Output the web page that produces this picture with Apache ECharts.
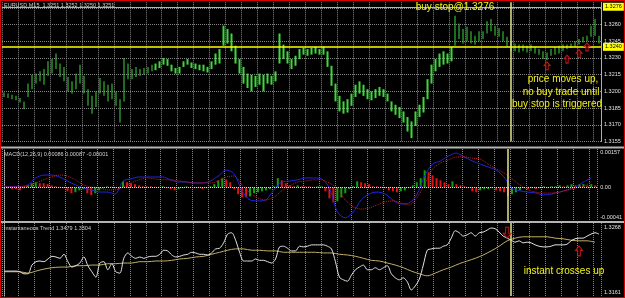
<!DOCTYPE html>
<html><head><meta charset="utf-8">
<script src="https://cdn.jsdelivr.net/npm/echarts@6/dist/echarts.min.js"></script>
<style>
html,body{margin:0;padding:0;background:#000;}
#c{width:625px;height:298px;position:absolute;left:0;top:0;}
#frame{position:absolute;left:0;top:0;width:625px;height:298px;box-sizing:border-box;border:1px solid #d80000;pointer-events:none;}
</style>
</head><body><div id="c"></div><div id="frame"></div>
<script>
// ---- price bars (EURUSD M15) ----
const highs = [
1.3199,1.3198,1.3197,1.3196,1.3194,1.3191,1.3207,1.3215,1.3216,1.3218,
1.3220,1.3227,1.3229,1.3234,1.3225,1.3222,1.3213,1.3209,1.3216,1.3224,
1.3214,1.3202,1.3196,1.3200,1.3212,1.3209,1.3206,1.3207,1.3200,1.3193,
1.3230,1.3225,1.3220,1.3222,1.3220,1.3221,1.3222,1.3224,1.3225,1.3227,
1.3230,1.3229,1.3224,1.3221,1.3222,1.3227,1.3229,1.3226,1.3225,1.3224,
1.3224,1.3222,1.3227,1.3234,1.3238,1.3259,1.3256,1.3252,1.3241,1.3229,
1.3222,1.3216,1.3215,1.3214,1.3216,1.3215,1.3216,1.3214,1.3218,1.3252,
1.3242,1.3236,1.3229,1.3232,1.3238,1.3239,1.3238,1.3239,1.3240,1.3238,
1.3240,1.3236,1.3223,1.3207,1.3196,1.3191,1.3193,1.3198,1.3206,1.3209,
1.3206,1.3202,1.3200,1.3202,1.3204,1.3202,1.3198,1.3191,1.3188,1.3186,
1.3182,1.3177,1.3173,1.3182,1.3188,1.3195,1.3211,1.3224,1.3229,1.3234,
1.3236,1.3234,1.3240,1.3268,1.3261,1.3256,1.3258,1.3254,1.3250,1.3254,
1.3254,1.3263,1.3265,1.3259,1.3257,1.3254,1.3249,1.3245,1.3243,1.3242,
1.3242,1.3241,1.3242,1.3240,1.3238,1.3236,1.3235,1.3238,1.3240,1.3241,
1.3242,1.3242,1.3243,1.3245,1.3247,1.3249,1.3250,1.3259,1.3265,1.3250];
const lows = [
1.3195,1.3194,1.3193,1.3192,1.3190,1.3184,1.3195,1.3202,1.3207,1.3209,
1.3206,1.3214,1.3216,1.3220,1.3213,1.3209,1.3200,1.3198,1.3202,1.3207,
1.3198,1.3187,1.3180,1.3186,1.3198,1.3196,1.3191,1.3193,1.3187,1.3172,
1.3191,1.3211,1.3211,1.3213,1.3214,1.3215,1.3216,1.3218,1.3219,1.3221,
1.3224,1.3223,1.3218,1.3216,1.3216,1.3222,1.3224,1.3221,1.3220,1.3219,
1.3218,1.3217,1.3220,1.3224,1.3225,1.3241,1.3243,1.3236,1.3225,1.3216,
1.3207,1.3203,1.3200,1.3204,1.3206,1.3200,1.3207,1.3206,1.3209,1.3225,
1.3229,1.3225,1.3220,1.3223,1.3229,1.3233,1.3232,1.3233,1.3234,1.3233,
1.3233,1.3222,1.3205,1.3191,1.3182,1.3180,1.3181,1.3187,1.3195,1.3198,
1.3196,1.3193,1.3192,1.3194,1.3196,1.3195,1.3191,1.3182,1.3179,1.3176,
1.3172,1.3164,1.3158,1.3169,1.3177,1.3181,1.3193,1.3207,1.3218,1.3222,
1.3224,1.3225,1.3227,1.3241,1.3247,1.3243,1.3245,1.3243,1.3242,1.3245,
1.3247,1.3252,1.3254,1.3250,1.3249,1.3245,1.3240,1.3236,1.3236,1.3235,
1.3236,1.3235,1.3236,1.3234,1.3233,1.3229,1.3228,1.3232,1.3233,1.3234,
1.3236,1.3238,1.3239,1.3240,1.3242,1.3244,1.3245,1.3249,1.3250,1.3243];
const buyStop = 1.3276;
const levelLine = 1.3240;
const signalBar = 127;
const priceArrows = [[136,1.3223],[141,1.3229],[144,1.3234],[146,1.3240]];

// ---- MACD(12,26,9) ----
const macdHist = [
-0.00004,-0.00004,-0.00008,-0.00008,-0.00013,-0.00004,0.00008,0.00017,0.00021,0.00017,
0.00017,0.00013,0.00008,0.00004,0.00002,-0.00004,-0.00017,-0.00025,-0.00021,-0.00013,
-0.00008,-0.00025,-0.00033,-0.00025,-0.00013,-0.00004,0.00004,0.00002,-0.00004,-0.00008,
0.00025,0.00021,0.00017,0.00013,0.00008,0.00004,0.00004,0.00004,0.00002,0.00002,
0.00004,-0.00004,-0.00008,-0.00013,-0.00008,-0.00004,0.00004,0.00002,-0.00004,-0.00004,
-0.00008,-0.00004,0.00004,0.00013,0.00029,0.00038,0.00033,0.00021,-0.00008,-0.00029,
-0.00042,-0.00042,-0.00038,-0.00025,-0.00021,-0.00017,-0.00013,-0.00008,0.00004,0.00038,
0.00029,0.00017,0.00008,0.00004,0.00008,0.00004,0.00004,0.00004,0.00002,0.00004,
0.00004,-0.00017,-0.00046,-0.00063,-0.00059,-0.00042,-0.00025,-0.00008,0.00004,0.00025,
0.00021,0.00017,0.00013,0.00004,0.00004,0.00002,-0.00004,-0.00013,-0.00017,-0.00021,
-0.00017,-0.00013,-0.00004,0.00008,0.00021,0.00038,0.00071,0.00063,0.00050,0.00038,
0.00029,0.00021,0.00013,0.00025,0.00013,0.00008,0.00004,-0.00004,-0.00017,-0.00021,
-0.00013,-0.00008,-0.00008,-0.00004,-0.00013,-0.00017,-0.00021,-0.00038,-0.00029,-0.00021,
-0.00013,-0.00004,-0.00008,-0.00004,-0.00008,-0.00004,0.00004,-0.00004,0.00004,0.00004,
0.00008,0.00004,0.00008,0.00013,0.00008,0.00013,0.00013,0.00008,0.00013,0.00008];
const lineStep = 2; // the two MACD lines and the trend line are read every 2nd bar
const macdMain = [
0.00003,0.00003,0.00003,0.00010,0.00039,0.00051,0.00051,0.00043,0.00026,0.00010,
-0.00003,-0.00011,-0.00020,-0.00020,-0.00028,0.00026,0.00035,0.00043,0.00043,0.00043,
0.00043,0.00031,0.00022,0.00022,0.00018,0.00018,0.00026,0.00047,0.00072,0.00056,
-0.00015,-0.00053,-0.00057,-0.00053,-0.00011,0.00022,0.00026,0.00031,0.00039,0.00039,
0.00035,-0.00003,-0.00103,-0.00128,-0.00103,-0.00053,-0.00028,-0.00020,-0.00028,-0.00053,
-0.00070,-0.00066,-0.00032,0.00047,0.00097,0.00110,0.00131,0.00143,0.00127,0.00110,
0.00097,0.00085,0.00072,0.00043,-0.00003,-0.00015,-0.00020,-0.00024,-0.00032,-0.00028,
-0.00020,-0.00011,0.00001,0.00022,0.00039];
const macdSignal = [
0.00001,0.00001,0.00001,0.00005,0.00018,0.00031,0.00043,0.00051,0.00047,0.00031,
0.00010,0.00001,-0.00003,-0.00011,-0.00011,0.00001,0.00018,0.00031,0.00039,0.00035,
0.00031,0.00031,0.00026,0.00022,0.00018,0.00018,0.00018,0.00026,0.00043,0.00047,
0.00010,-0.00024,-0.00045,-0.00053,-0.00041,-0.00015,0.00005,0.00022,0.00026,0.00031,
0.00031,0.00018,-0.00007,-0.00053,-0.00082,-0.00091,-0.00087,-0.00074,-0.00061,-0.00057,
-0.00066,-0.00074,-0.00045,0.00014,0.00076,0.00102,0.00114,0.00127,0.00127,0.00122,
0.00118,0.00097,0.00076,0.00060,0.00035,0.00010,-0.00011,-0.00020,-0.00024,-0.00024,
-0.00020,-0.00011,-0.00003,0.00005,0.00022];
const macdTickLabels = ['0.00157','0.00','-0.00041'];
const macdTickAt = [0.00147, 0, -0.00128];

// ---- Instantaneous Trend ----
const instant = [
1.3198,1.3198,1.3198,1.3198,1.3197,1.3194,1.3194,1.3207,1.3212,1.3213,
1.3212,1.3216,1.3220,1.3219,1.3217,1.3223,1.3212,1.3204,1.3206,1.3210,
1.3219,1.3206,1.3197,1.3189,1.3210,1.3212,1.3200,1.3209,1.3197,1.3195,
1.3217,1.3225,1.3220,1.3217,1.3219,1.3217,1.3219,1.3220,1.3220,1.3223,
1.3229,1.3228,1.3222,1.3219,1.3220,1.3222,1.3223,1.3226,1.3225,1.3223,
1.3223,1.3222,1.3225,1.3231,1.3232,1.3240,1.3253,1.3255,1.3244,1.3226,
1.3213,1.3213,1.3213,1.3216,1.3214,1.3214,1.3212,1.3210,1.3216,1.3234,
1.3235,1.3232,1.3228,1.3228,1.3235,1.3234,1.3235,1.3237,1.3237,1.3237,
1.3237,1.3235,1.3231,1.3212,1.3189,1.3185,1.3183,1.3192,1.3200,1.3204,
1.3207,1.3200,1.3200,1.3203,1.3200,1.3203,1.3206,1.3194,1.3188,1.3185,
1.3188,1.3182,1.3170,1.3176,1.3186,1.3207,1.3229,1.3231,1.3232,1.3232,
1.3235,1.3237,1.3247,1.3258,1.3255,1.3250,1.3252,1.3255,1.3250,1.3255,
1.3256,1.3259,1.3262,1.3261,1.3256,1.3250,1.3247,1.3244,1.3241,1.3243,
1.3240,1.3241,1.3240,1.3237,1.3235,1.3234,1.3234,1.3235,1.3237,1.3237,
1.3237,1.3238,1.3243,1.3246,1.3247,1.3247,1.3250,1.3253,1.3255,1.3253];
const trend = [
1.3197,1.3197,1.3197,1.3195,1.3198,1.3201,1.3203,1.3204,1.3204,1.3206,
1.3206,1.3207,1.3207,1.3209,1.3209,1.3210,1.3210,1.3212,1.3212,1.3213,
1.3213,1.3214,1.3216,1.3217,1.3219,1.3220,1.3223,1.3226,1.3229,1.3231,
1.3231,1.3229,1.3229,1.3228,1.3228,1.3226,1.3226,1.3226,1.3226,1.3226,
1.3225,1.3225,1.3223,1.3222,1.3220,1.3217,1.3214,1.3213,1.3210,1.3207,
1.3203,1.3198,1.3194,1.3191,1.3195,1.3200,1.3204,1.3209,1.3213,1.3217,
1.3222,1.3228,1.3235,1.3243,1.3247,1.3249,1.3249,1.3249,1.3249,1.3247,
1.3246,1.3244,1.3243,1.3243,1.3241];
const trendTickLabels = ['1.3268','1.3161'];
const trendTickAt = [1.32635, 1.31669];
const trendArrowsDown = [[126,1.3255]];
const trendArrowsUp = [[144,1.3228]];

// ---- text ----
const titleMain = 'EURUSD,M15  1.3251 1.3252 1.3250 1.3251';
const titleMacd = 'MACD(12,26,9) 0.00086 0.00087 -0.00001';
const titleTrend = 'Instantaneous Trend 1.3479 1.3304';
const noteBuyStop = 'buy stop@1.3276';
const notePrice = ['price moves up,','no buy trade until','buy stop is triggered'];
const noteCross = 'instant crosses up';

const N = highs.length;
const cats = highs.map((_, i) => i);
const FONT = 'Liberation Sans, Arial, sans-serif';
const GRIDCOL = '#858585';
const YEL = '#f2f21a';
const upArrow = 'path://M5,0 L10,5 L7,5 L7,11 L3,11 L3,5 L0,5 Z';
const downArrow = 'path://M3,0 L7,0 L7,6 L10,6 L5,11 L0,6 L3,6 Z';

function nearestLabel(pos, labels) {
  return function (v) {
    let best = 0;
    for (let i = 1; i < pos.length; i++) if (Math.abs(pos[i] - v) < Math.abs(pos[best] - v)) best = i;
    return labels[best];
  };
}
const vSplit = {show: true, interval: 3, lineStyle: {color: GRIDCOL, type: 'dotted', width: 1}};
function catAxis(g) {
  return {type: 'category', gridIndex: g, data: cats, boundaryGap: true,
    axisLine: {show: false}, axisTick: {show: false}, axisLabel: {show: false}, splitLine: vSplit};
}
function valX(g) {
  return {type: 'value', gridIndex: g, min: -0.5, max: N - 0.5, show: false, splitLine: {show: false}};
}
const axisLineR = {show: true, lineStyle: {color: '#bbbbbb', type: 'dotted', width: 1}};
const labelStyle = {fontSize: 5.5, color: '#e0e0e0', fontFamily: FONT, margin: 3};

const histColors = [];
let prevCol = '#12a012';
for (let i = 0; i < N; i++) {
  if (i > 0) {
    if (macdHist[i] > macdHist[i - 1]) prevCol = '#12a012';
    else if (macdHist[i] < macdHist[i - 1]) prevCol = '#e01414';
  }
  histColors.push(prevCol);
}

const vLine = {xAxis: signalBar, lineStyle: {color: '#e6e68c', width: 1.5, type: 'solid'}, label: {show: false}};
const boxLabel = (t) => ({show: true, position: 'end', distance: 2, formatter: t, color: '#000', backgroundColor: '#ffff00', fontSize: 5.5, fontFamily: FONT, padding: [1, 2]});

const option = {
  backgroundColor: '#000',
  animation: false,
  grid: [
    {left: 2, right: 24, top: 2.3, height: 139.2},
    {left: 2, right: 24, top: 149, height: 72},
    {left: 2, right: 24, top: 223, height: 73}
  ],
  xAxis: [catAxis(0), catAxis(1), catAxis(2), valX(1), valX(2)],
  yAxis: [
    {gridIndex: 0, position: 'right', min: 1.3155, max: 1.3280, interval: 0.0015,
      axisLine: axisLineR, axisTick: {show: false},
      axisLabel: Object.assign({}, labelStyle, {formatter: v => v > 1.3266 ? '' : v.toFixed(4)}),
      splitLine: {show: true, showMaxLine: false, lineStyle: {color: GRIDCOL, type: 'dotted', width: 1}}},
    {gridIndex: 1, position: 'right', min: -0.00141, max: 0.0016,
      axisLine: axisLineR, axisTick: {show: false}, splitLine: {show: false},
      axisLabel: Object.assign({}, labelStyle, {customValues: macdTickAt, formatter: nearestLabel(macdTickAt, macdTickLabels)})},
    {gridIndex: 2, position: 'right', min: 1.3161, max: 1.32695,
      axisLine: axisLineR, axisTick: {show: false}, splitLine: {show: false},
      axisLabel: Object.assign({}, labelStyle, {customValues: trendTickAt, formatter: nearestLabel(trendTickAt, trendTickLabels)})}
  ],
  series: [
    {type: 'candlestick', xAxisIndex: 0, yAxisIndex: 0, barWidth: 2, barMaxWidth: 2,
      data: lows.map((l, i) => [l, highs[i], l, highs[i]]),
      itemStyle: {color: '#3ed83e', color0: '#3ed83e', borderColor: '#3ed83e', borderColor0: '#3ed83e', borderWidth: 0}},
    {type: 'scatter', xAxisIndex: 0, yAxisIndex: 0, data: priceArrows, symbol: upArrow, symbolSize: [6, 8],
      itemStyle: {color: '#2a0000', borderColor: '#e02020', borderWidth: 1}, z: 5,
      markLine: {symbol: 'none', silent: true, animation: false, precision: 4,
        data: [
          {yAxis: buyStop, lineStyle: {color: '#b9b97a', width: 1, type: 'solid'}, label: boxLabel(buyStop.toFixed(4))},
          {yAxis: levelLine, lineStyle: {color: '#ffff00', width: 1.5, type: 'solid'}, label: boxLabel(levelLine.toFixed(4))},
          vLine
        ]}},
    {type: 'bar', xAxisIndex: 1, yAxisIndex: 1, barWidth: 2,
      data: macdHist.map((v, i) => ({value: v, itemStyle: {color: histColors[i]}})),
      markLine: {symbol: 'none', silent: true, animation: false,
        data: [{yAxis: 0, lineStyle: {color: '#e0e0e0', type: 'dotted', width: 1}, label: {show: false}}, vLine]}},
    {type: 'line', xAxisIndex: 3, yAxisIndex: 1, showSymbol: false, smooth: 0.3,
      data: macdMain.map((v, k) => [k * lineStep, v]), lineStyle: {color: '#2424d8', width: 1}, z: 4},
    {type: 'line', xAxisIndex: 3, yAxisIndex: 1, showSymbol: false, smooth: 0.3,
      data: macdSignal.map((v, k) => [k * lineStep, v]), lineStyle: {color: '#c42020', width: 1, type: 'dotted'}, z: 4},
    {type: 'line', xAxisIndex: 2, yAxisIndex: 2, showSymbol: false, smooth: 0.3,
      data: instant, lineStyle: {color: '#e4e4e4', width: 1}, z: 4,
      markLine: {symbol: 'none', silent: true, animation: false, data: [vLine]}},
    {type: 'line', xAxisIndex: 4, yAxisIndex: 2, showSymbol: false, smooth: 0.3,
      data: trend.map((v, k) => [k * lineStep, v]), lineStyle: {color: '#c2ae6a', width: 1}, z: 3},
    {type: 'scatter', xAxisIndex: 2, yAxisIndex: 2, data: trendArrowsDown, symbol: downArrow, symbolSize: [8, 11],
      itemStyle: {color: '#2a0000', borderColor: '#e02020', borderWidth: 1}, z: 6},
    {type: 'scatter', xAxisIndex: 2, yAxisIndex: 2, data: trendArrowsUp, symbol: upArrow, symbolSize: [7, 10],
      itemStyle: {color: '#2a0000', borderColor: '#e02020', borderWidth: 1}, z: 6}
  ],
  graphic: [
    {type: 'line', shape: {x1: 0, y1: 147.5, x2: 625, y2: 147.5}, style: {stroke: '#b4b4b4', lineWidth: 2}, silent: true, z: 10},
    {type: 'line', shape: {x1: 0, y1: 222, x2: 625, y2: 222}, style: {stroke: '#b4b4b4', lineWidth: 2}, silent: true, z: 10},
    {type: 'text', x: 4, y: 5, style: {text: titleMain, fill: '#d0d0d0', font: '5.5px ' + FONT, verticalAlign: 'middle'}, z: 11},
    {type: 'text', x: 4, y: 154, style: {text: titleMacd, fill: '#d0d0d0', font: '5.5px ' + FONT, verticalAlign: 'middle'}, z: 11},
    {type: 'text', x: 4, y: 228, style: {text: titleTrend, fill: '#d0d0d0', font: '5.5px ' + FONT, verticalAlign: 'middle'}, z: 11},
    {type: 'text', x: 455, y: 7.5, style: {text: noteBuyStop, fill: YEL, font: '10px ' + FONT, align: 'center', verticalAlign: 'middle'}, z: 11},
    {type: 'text', x: 563, y: 79, style: {text: notePrice[0], fill: YEL, font: '10px ' + FONT, align: 'center', verticalAlign: 'middle'}, z: 11},
    {type: 'text', x: 561, y: 92, style: {text: notePrice[1], fill: YEL, font: '10px ' + FONT, align: 'center', verticalAlign: 'middle'}, z: 11},
    {type: 'text', x: 557, y: 104, style: {text: notePrice[2], fill: YEL, font: '10px ' + FONT, align: 'center', verticalAlign: 'middle'}, z: 11},
    {type: 'text', x: 564, y: 271, style: {text: noteCross, fill: YEL, font: '10px ' + FONT, align: 'center', verticalAlign: 'middle'}, z: 11}
  ]
};
const chart = echarts.init(document.getElementById('c'), null, {renderer: 'canvas', width: 625, height: 298});
chart.setOption(option);
</script>
</body></html>
